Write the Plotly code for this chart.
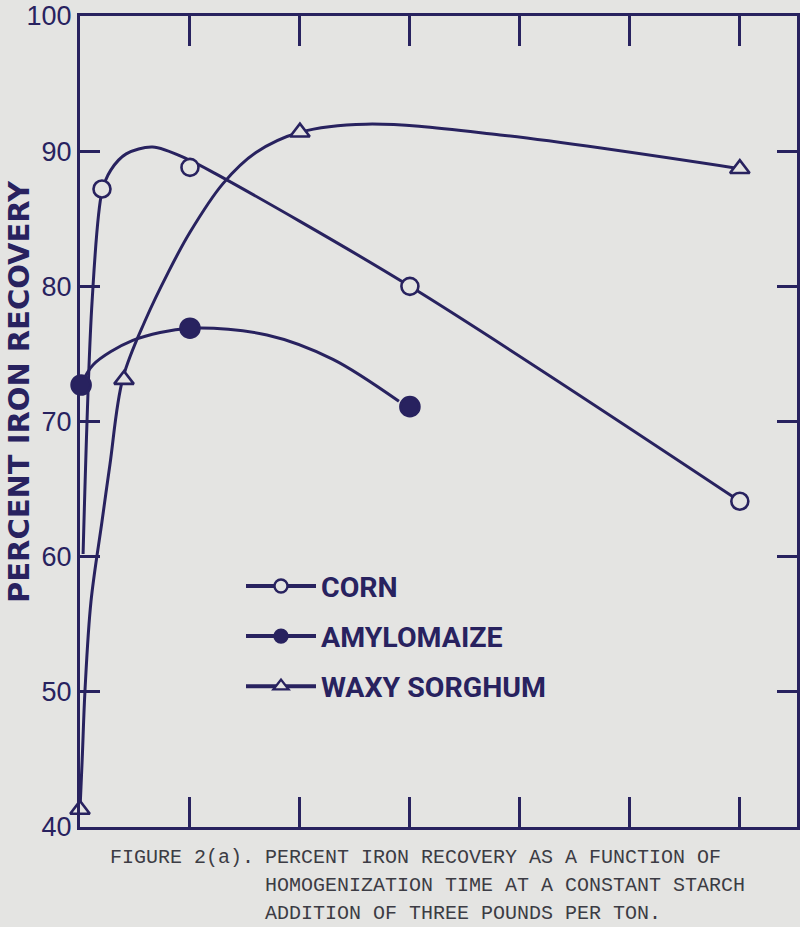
import plotly.graph_objects as go

# ---- data ----
# measured points: homogenization time (minutes) vs percent iron recovery
corn_time = [1, 5, 15, 30]
corn_recovery = [87.2, 88.8, 80.0, 64.1]

amylo_time = [0.05, 5, 15]
amylo_recovery = [72.7, 76.9, 71.1]

waxy_time = [0, 2, 10, 30]
waxy_recovery = [41.3, 73.1, 91.4, 88.7]

# hand-drawn fitted curves
corn_curve_time = [0.14, 0.55, 1.0, 1.4, 2.1, 3.3, 4.9, 6.2, 15, 30]
corn_curve_recovery = [60.2, 78.9, 87.0, 88.6, 89.8, 90.3, 89.4, 88.3, 80.0, 64.1]

amylo_curve_time = [0.05, 0.6, 2.4, 5, 8.5, 11.5, 14.5]
amylo_curve_recovery = [72.7, 74.2, 76.0, 76.9, 76.4, 74.6, 71.5]

waxy_curve_time = [0, 0.1, 0.23, 0.5, 1.0, 1.36, 1.95, 3, 4, 5, 6.5, 8, 10, 13.0, 19.1, 30]
waxy_curve_recovery = [41.3, 45.0, 50.2, 56.7, 62.6, 66.8, 73.2, 77.6, 81.0, 84.0, 87.6, 89.9, 91.4, 92.0, 91.2, 88.7]

series_names = ["CORN", "AMYLOMAIZE", "WAXY SORGHUM"]
y_tick_values = [40, 50, 60, 70, 80, 90, 100]
x_tick_values = [5, 10, 15, 20, 25, 30]

caption_head = "FIGURE 2(a)."
caption_lines = [
    "PERCENT IRON RECOVERY AS A FUNCTION OF",
    "HOMOGENIZATION TIME AT A CONSTANT STARCH",
    "ADDITION OF THREE POUNDS PER TON.",
]
y_title = "PERCENT IRON RECOVERY"

# ---- style ----
INK = "#28225f"
PAPER = "#e4e4e2"
CAPTION = "#3c3c44"

series = [
    dict(name=series_names[0], t=corn_time, r=corn_recovery,
         ct=corn_curve_time, cr=corn_curve_recovery, smooth=0.9,
         symbol="circle", fill=PAPER, size=17),
    dict(name=series_names[1], t=amylo_time, r=amylo_recovery,
         ct=amylo_curve_time, cr=amylo_curve_recovery, smooth=0.9,
         symbol="circle", fill=INK, size=19),
    dict(name=series_names[2], t=waxy_time, r=waxy_recovery,
         ct=waxy_curve_time, cr=waxy_curve_recovery, smooth=1.0,
         symbol="triangle-up", fill=PAPER, size=17),
]

fig = go.Figure()
for i, s in enumerate(series):
    fig.add_trace(go.Scatter(
        x=s["ct"], y=s["cr"], mode="lines", showlegend=False, hoverinfo="skip",
        line=dict(color=INK, width=3, shape="spline", smoothing=s["smooth"]),
        cliponaxis=False,
    ))
for i, s in enumerate(series):
    fig.add_trace(go.Scatter(
        x=s["t"], y=s["r"], mode="markers", showlegend=False, name=s["name"],
        marker=dict(symbol=s["symbol"], color=s["fill"], size=s["size"],
                    line=dict(width=2.6, color=INK)),
        cliponaxis=False,
    ))
# legend entries (line + symbol), no data of their own
for i, s in enumerate(series):
    fig.add_trace(go.Scatter(
        x=[None], y=[None], mode="lines+markers", name=s["name"],
        legendgroup=f"g{i}",
        line=dict(color=INK, width=4),
        marker=dict(symbol=s["symbol"], color=s["fill"], size=13,
                    line=dict(width=2.4, color=INK)),
    ))

axis_common = dict(
    showline=True, linecolor=INK, linewidth=3,
    mirror="ticks", ticks="inside", tickcolor=INK, tickwidth=3,
    showgrid=False, zeroline=False, automargin=False,
)

fig.update_xaxes(range=[0, 32.6], tickvals=x_tick_values, ticklen=30,
                 showticklabels=False, **axis_common)
fig.update_yaxes(range=[40, 100], tickvals=y_tick_values, ticklen=20,
                 ticklabeloverflow="allow",
                 tickfont=dict(family="Liberation Sans", size=27, color=INK),
                 **axis_common)

TOP = 16
BOTTOM = 827

def px_x(p):
    return (p - 80) / 717

def px_y(p):
    return (BOTTOM - p) / (BOTTOM - TOP)

annotations = [
    dict(text=y_title, textangle=-90, xref="paper", yref="paper",
         x=px_x(19), y=px_y(392), xanchor="center", yanchor="middle", showarrow=False,
         font=dict(family="DejaVu Sans", size=29, color=INK, weight="bold")),
    dict(text=caption_head, xref="paper", yref="paper", x=px_x(108),
         y=px_y(857), xanchor="left", yanchor="middle", showarrow=False,
         font=dict(family="Liberation Mono", size=20, color=CAPTION)),
]
for k, line in enumerate(caption_lines):
    annotations.append(dict(
        text=line, xref="paper", yref="paper", x=px_x(263), y=px_y(857 + 28 * k),
        xanchor="left", yanchor="middle", showarrow=False,
        font=dict(family="Liberation Mono", size=20, color=CAPTION)))

fig.update_layout(
    width=800, height=927,
    margin=dict(l=80, r=3, t=TOP, b=927 - BOTTOM, autoexpand=False),
    paper_bgcolor=PAPER, plot_bgcolor=PAPER,
    showlegend=True,
    legend=dict(
        x=px_x(241), y=px_y(561), xanchor="left", yanchor="top",
        bgcolor="rgba(0,0,0,0)", itemwidth=70, itemsizing="trace",
        font=dict(family="Roboto", size=28.5, color=INK, weight="bold"),
        traceorder="grouped", tracegroupgap=10,
    ),
    annotations=annotations,
)

fig.write_html("out.html")
